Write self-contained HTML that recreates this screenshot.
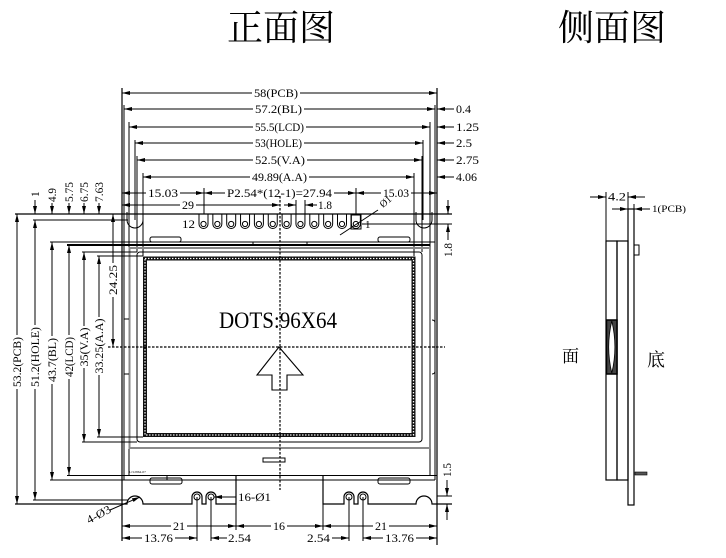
<!DOCTYPE html>
<html><head><meta charset="utf-8">
<style>
html,body{margin:0;padding:0;background:#fff;}
svg{display:block;}
text{font-family:"Liberation Serif","Noto Serif CJK SC",serif;fill:#000;stroke:none;}
.d{font-size:11.5px;}
.s{font-size:10px;}
</style></head><body>
<svg width="726" height="558" viewBox="0 0 726 558" xmlns="http://www.w3.org/2000/svg">
<defs>
<marker id="a" markerWidth="8" markerHeight="4" refX="8" refY="2" orient="auto-start-reverse" markerUnits="userSpaceOnUse"><path d="M0,0 L8,2 L0,4 z" fill="#000"/></marker>
</defs>
<rect width="726" height="558" fill="#fff"/>

<!-- titles -->
<text x="227" y="40" font-size="36" style="font-family:'Noto Serif CJK SC',serif">正面图</text>
<text x="558" y="40" font-size="36" style="font-family:'Noto Serif CJK SC',serif">侧面图</text>

<g stroke="#000" stroke-width="1" fill="none">
<!-- top horizontal dims -->
<line x1="122" y1="93" x2="437" y2="93" marker-start="url(#a)" marker-end="url(#a)"/>
<line x1="124" y1="109" x2="435" y2="109" marker-start="url(#a)" marker-end="url(#a)"/>
<line x1="129" y1="127" x2="430" y2="127" marker-start="url(#a)" marker-end="url(#a)"/>
<line x1="135" y1="143" x2="423" y2="143" marker-start="url(#a)" marker-end="url(#a)"/>
<line x1="137" y1="160" x2="422" y2="160" marker-start="url(#a)" marker-end="url(#a)"/>
<line x1="143" y1="177" x2="414" y2="177" marker-start="url(#a)" marker-end="url(#a)"/>
<!-- right small leaders -->
<line x1="437" y1="109" x2="454" y2="109" marker-start="url(#a)"/>
<line x1="437" y1="127" x2="454" y2="127" marker-start="url(#a)"/>
<line x1="437" y1="143" x2="454" y2="143" marker-start="url(#a)"/>
<line x1="437" y1="160" x2="454" y2="160" marker-start="url(#a)"/>
<line x1="437" y1="177" x2="454" y2="177" marker-start="url(#a)"/>
<!-- extension verticals top -->
<line x1="124" y1="105" x2="124" y2="480"/>
<line x1="129" y1="122" x2="129" y2="475"/>
<line x1="135" y1="140" x2="135" y2="220"/>
<line x1="143" y1="173" x2="143" y2="256"/>
<line x1="435" y1="105" x2="435" y2="480"/>
<line x1="430" y1="122" x2="430" y2="475"/>
<line x1="423" y1="140" x2="423" y2="220"/>
<line x1="414" y1="173" x2="414" y2="256"/>
<line x1="137" y1="156" x2="137" y2="252"/>
<line x1="422" y1="156" x2="422" y2="252"/>
<!-- PCB edges -->
<line x1="122" y1="88" x2="122" y2="541" stroke-width="1.2"/>
<line x1="437" y1="88" x2="437" y2="545" stroke-width="1.2"/>
<line x1="15" y1="214" x2="452" y2="214" stroke-width="1.2"/>
<!-- row 193 -->
<line x1="122" y1="193" x2="204" y2="193" marker-start="url(#a)" marker-end="url(#a)"/>
<line x1="204" y1="193" x2="356" y2="193" marker-start="url(#a)" marker-end="url(#a)"/>
<line x1="356" y1="193" x2="437" y2="193" marker-start="url(#a)" marker-end="url(#a)"/>
<line x1="204" y1="188" x2="204" y2="214"/>
<line x1="356" y1="188" x2="356" y2="214"/>
<!-- row 205 -->
<line x1="122" y1="205" x2="280" y2="205" marker-start="url(#a)" marker-end="url(#a)"/>
<line x1="284" y1="205" x2="296" y2="205" marker-end="url(#a)"/>
<line x1="317" y1="205" x2="305" y2="205" marker-end="url(#a)"/>
<line x1="296" y1="200" x2="296" y2="214"/>
<line x1="305" y1="200" x2="305" y2="214"/>
</g>

<!-- top labels -->
<g class="d">
<rect x="252" y="87" width="48" height="12" fill="#fff"/><text class="d" x="254" y="97" textLength="44" lengthAdjust="spacingAndGlyphs">58(PCB)</text>
<rect x="253" y="103" width="51" height="12" fill="#fff"/><text class="d" x="255" y="113" textLength="47" lengthAdjust="spacingAndGlyphs">57.2(BL)</text>
<rect x="253" y="121" width="53" height="12" fill="#fff"/><text class="d" x="255" y="131" textLength="49" lengthAdjust="spacingAndGlyphs">55.5(LCD)</text>
<rect x="253" y="137" width="51" height="12" fill="#fff"/><text class="d" x="255" y="147" textLength="47" lengthAdjust="spacingAndGlyphs">53(HOLE)</text>
<rect x="253" y="154" width="54" height="12" fill="#fff"/><text class="d" x="255" y="164" textLength="50" lengthAdjust="spacingAndGlyphs">52.5(V.A)</text>
<rect x="250" y="171" width="59" height="12" fill="#fff"/><text class="d" x="252" y="181" textLength="55" lengthAdjust="spacingAndGlyphs">49.89(A.A)</text>
<text class="d" x="456" y="113" textLength="15" lengthAdjust="spacingAndGlyphs">0.4</text>
<text class="d" x="456" y="131" textLength="23" lengthAdjust="spacingAndGlyphs">1.25</text>
<text class="d" x="456" y="147" textLength="16" lengthAdjust="spacingAndGlyphs">2.5</text>
<text class="d" x="456" y="164" textLength="23" lengthAdjust="spacingAndGlyphs">2.75</text>
<text class="d" x="456" y="181" textLength="21" lengthAdjust="spacingAndGlyphs">4.06</text>
<rect x="146" y="187" width="34" height="12" fill="#fff"/><text class="d" x="148" y="197" textLength="30" lengthAdjust="spacingAndGlyphs">15.03</text>
<rect x="225" y="187" width="109" height="12" fill="#fff"/><text class="d" x="227" y="197" textLength="105" lengthAdjust="spacingAndGlyphs">P2.54*(12-1)=27.94</text>
<rect x="381" y="187" width="30" height="12" fill="#fff"/><text class="d" x="383" y="197" textLength="26" lengthAdjust="spacingAndGlyphs">15.03</text>
<rect x="180" y="199" width="16" height="12" fill="#fff"/><text class="d" x="182" y="209" textLength="12" lengthAdjust="spacingAndGlyphs">29</text>
<text class="d" x="318" y="209" textLength="14" lengthAdjust="spacingAndGlyphs">1.8</text>
</g>

<!-- body -->
<g stroke="#000" stroke-width="1" fill="none">
<!-- polarizer grey -->
<rect x="129.5" y="248" width="300.5" height="200" stroke="#8a8a8a" stroke-width="2"/>
<!-- BL -->
<line x1="50" y1="242" x2="435" y2="242"/>
<line x1="50" y1="480" x2="435" y2="480"/>
<!-- LCD -->
<line x1="67" y1="245" x2="430" y2="245" stroke-width="2"/>
<line x1="67" y1="475.5" x2="437" y2="475.5"/>
<!-- V.A -->
<line x1="82" y1="252" x2="137" y2="252"/>
<line x1="82" y1="442" x2="137" y2="442"/>
<rect x="137" y="252" width="285" height="190" rx="3"/>
<!-- A.A ext -->
<line x1="97" y1="256" x2="143" y2="256"/>
<line x1="97" y1="437" x2="143" y2="437"/>
<!-- hole exts -->
<line x1="33" y1="220" x2="128" y2="220"/>
<line x1="33" y1="500" x2="128" y2="500"/>
<line x1="362" y1="224" x2="452" y2="224"/>
<!-- slots top -->
<path d="M127,212 V220 A8,8 0 0 0 143,220 V212"/>
<path d="M416,212 V220 A8,8 0 0 0 432,220 V212"/>
<!-- bottom edge -->
<path d="M15,504 H127 A8,8 0 0 1 143,504 H192 V497 A5,5 0 0 1 202,497 V504 H206 V497 A5,5 0 0 1 216,497 V504 H236 V476" stroke-width="1.2"/>
<path d="M323,476 V504 H344 V497 A5,5 0 0 1 354,497 V504 H358 V497 A5,5 0 0 1 368,497 V504 H416 A8,8 0 0 1 432,504 H452" stroke-width="1.2"/>
<circle cx="197" cy="497" r="3"/><circle cx="211" cy="497" r="3"/>
<circle cx="349" cy="497" r="3"/><circle cx="363" cy="497" r="3"/>
<!-- small rounded rects -->
<rect x="150" y="237" width="31" height="5" rx="2"/>
<rect x="378" y="237" width="32" height="5" rx="2"/>
<rect x="150" y="478" width="32" height="6" rx="2"/>
<rect x="378" y="478" width="32" height="6" rx="2"/>
<rect x="263" y="458" width="22" height="4"/>
<path d="M432,320 Q435,320 435,323 V371 Q435,374 432,374" stroke-width="0.9"/>
<line x1="124" y1="319" x2="129" y2="319"/>
<line x1="124" y1="374" x2="129" y2="374"/>
<line x1="253" y1="242" x2="253" y2="245"/>
<line x1="307" y1="242" x2="307" y2="245"/>
<line x1="167" y1="476" x2="167" y2="480"/>
<!-- A.A dotted border -->
<rect x="145" y="258.5" width="268.5" height="176.5" stroke="#111" stroke-width="4"/>
<rect x="145" y="258.5" width="268.5" height="176.5" stroke="#fff" stroke-width="1.3" stroke-dasharray="1.4 1.6"/>
<!-- pins top -->
<path d="M199,214 V224 A4.5,4.5 0 0 0 208,224 V214"/>
<path d="M212.85,214 V224 A4.5,4.5 0 0 0 221.85,224 V214"/>
<path d="M226.7,214 V224 A4.5,4.5 0 0 0 235.7,224 V214"/>
<path d="M240.55,214 V224 A4.5,4.5 0 0 0 249.55,224 V214"/>
<path d="M254.4,214 V224 A4.5,4.5 0 0 0 263.4,224 V214"/>
<path d="M268.25,214 V224 A4.5,4.5 0 0 0 277.25,224 V214"/>
<path d="M282.1,214 V224 A4.5,4.5 0 0 0 291.1,224 V214"/>
<path d="M295.95,214 V224 A4.5,4.5 0 0 0 304.95,224 V214"/>
<path d="M309.8,214 V224 A4.5,4.5 0 0 0 318.8,224 V214"/>
<path d="M323.65,214 V224 A4.5,4.5 0 0 0 332.65,224 V214"/>
<path d="M337.5,214 V224 A4.5,4.5 0 0 0 346.5,224 V214"/>
<path d="M351.35,214 V224 A4.5,4.5 0 0 0 360.35,224 V214"/>
<circle cx="203.5" cy="224" r="2.6"/><circle cx="217.35" cy="224" r="2.6"/><circle cx="231.2" cy="224" r="2.6"/>
<circle cx="245.05" cy="224" r="2.6"/><circle cx="258.9" cy="224" r="2.6"/><circle cx="272.75" cy="224" r="2.6"/>
<circle cx="286.6" cy="224" r="2.6"/><circle cx="300.45" cy="224" r="2.6"/><circle cx="314.3" cy="224" r="2.6"/>
<circle cx="328.15" cy="224" r="2.6"/><circle cx="342" cy="224" r="2.6"/><circle cx="355.85" cy="224" r="2.6"/>
<rect x="351" y="215" width="10" height="14"/>
<line x1="340" y1="235" x2="378" y2="210"/>
<!-- arrow -->
<polygon points="279,347 303,375 287,375 287,390 272,390 272,375 257,375" stroke-width="1.1"/>
<!-- center dashed -->
<line x1="280" y1="196" x2="280" y2="490" stroke-width="1.2" stroke-dasharray="2.5 1.5"/>
<line x1="108" y1="347" x2="445" y2="347" stroke-width="1.2" stroke-dasharray="2.5 1.5"/>

<!-- left vertical dims -->
<line x1="17" y1="214" x2="17" y2="504" marker-start="url(#a)" marker-end="url(#a)"/>
<line x1="35" y1="220" x2="35" y2="500" marker-start="url(#a)" marker-end="url(#a)"/>
<line x1="35" y1="200" x2="35" y2="214" marker-end="url(#a)"/>
<line x1="52" y1="242" x2="52" y2="480" marker-start="url(#a)" marker-end="url(#a)"/>
<line x1="52" y1="203" x2="52" y2="214" marker-end="url(#a)"/>
<line x1="69" y1="245" x2="69" y2="475" marker-start="url(#a)" marker-end="url(#a)"/>
<line x1="69" y1="203" x2="69" y2="214" marker-end="url(#a)"/>
<line x1="84" y1="252" x2="84" y2="442" marker-start="url(#a)" marker-end="url(#a)"/>
<line x1="84" y1="203" x2="84" y2="214" marker-end="url(#a)"/>
<line x1="99" y1="256" x2="99" y2="437" marker-start="url(#a)" marker-end="url(#a)"/>
<line x1="99" y1="203" x2="99" y2="214" marker-end="url(#a)"/>
<line x1="113" y1="214" x2="113" y2="347" marker-start="url(#a)" marker-end="url(#a)"/>
<line x1="15" y1="504" x2="122" y2="504"/>

<!-- right vertical dims -->
<line x1="448" y1="200" x2="448" y2="214" marker-end="url(#a)"/>
<line x1="448" y1="240" x2="448" y2="224" marker-end="url(#a)"/>
<line x1="447" y1="480" x2="447" y2="496" marker-end="url(#a)"/>
<line x1="447" y1="520" x2="447" y2="504" marker-end="url(#a)"/>
<line x1="437" y1="496" x2="452" y2="496"/>

<!-- bottom dims -->
<line x1="197" y1="497" x2="197" y2="541"/>
<line x1="211" y1="497" x2="211" y2="541"/>
<line x1="349" y1="497" x2="349" y2="541"/>
<line x1="363" y1="497" x2="363" y2="541"/>
<line x1="236" y1="476" x2="236" y2="530"/>
<line x1="323" y1="476" x2="323" y2="530"/>
<line x1="122" y1="526" x2="236" y2="526" marker-start="url(#a)" marker-end="url(#a)"/>
<line x1="236" y1="526" x2="323" y2="526" marker-start="url(#a)" marker-end="url(#a)"/>
<line x1="323" y1="526" x2="437" y2="526" marker-start="url(#a)" marker-end="url(#a)"/>
<line x1="122" y1="538" x2="197" y2="538" marker-start="url(#a)" marker-end="url(#a)"/>
<line x1="227" y1="538" x2="211" y2="538" marker-end="url(#a)"/>
<line x1="332" y1="538" x2="349" y2="538" marker-end="url(#a)"/>
<line x1="363" y1="538" x2="437" y2="538" marker-start="url(#a)" marker-end="url(#a)"/>
<line x1="236" y1="497" x2="214" y2="497" marker-end="url(#a)"/>
<line x1="110" y1="510" x2="140" y2="497" marker-end="url(#a)"/>
</g>

<!-- body labels -->
<text x="182" y="228" font-size="12" textLength="13" lengthAdjust="spacingAndGlyphs">12</text>
<text x="365" y="228" font-size="11">1</text>
<text x="219" y="328" font-size="23" textLength="118" lengthAdjust="spacingAndGlyphs">DOTS:96X64</text>
<text x="129" y="473" font-size="3.5" fill="#333">LJ12864-07</text>
<text class="s" transform="translate(383,208) rotate(-40)">Ø1</text>

<!-- left rotated labels -->
<g class="d">
<g transform="translate(17,362) rotate(-90)"><rect x="-27" y="-6" width="54" height="12" fill="#fff"/><text class="d" x="-25" y="4" textLength="50" lengthAdjust="spacingAndGlyphs">53.2(PCB)</text></g>
<g transform="translate(35,357) rotate(-90)"><rect x="-32" y="-6" width="64" height="12" fill="#fff"/><text class="d" x="-30" y="4" textLength="60" lengthAdjust="spacingAndGlyphs">51.2(HOLE)</text></g>
<g transform="translate(52,360) rotate(-90)"><rect x="-24" y="-6" width="48" height="12" fill="#fff"/><text class="d" x="-22" y="4" textLength="44" lengthAdjust="spacingAndGlyphs">43.7(BL)</text></g>
<g transform="translate(69,357) rotate(-90)"><rect x="-22" y="-6" width="44" height="12" fill="#fff"/><text class="d" x="-20" y="4" textLength="40" lengthAdjust="spacingAndGlyphs">42(LCD)</text></g>
<g transform="translate(84,347) rotate(-90)"><rect x="-21" y="-6" width="42" height="12" fill="#fff"/><text class="d" x="-19.5" y="4" textLength="39" lengthAdjust="spacingAndGlyphs">35(V.A)</text></g>
<g transform="translate(99,346) rotate(-90)"><rect x="-29" y="-6" width="58" height="12" fill="#fff"/><text class="d" x="-27.5" y="4" textLength="55" lengthAdjust="spacingAndGlyphs">33.25(A.A)</text></g>
<g transform="translate(113,280) rotate(-90)"><rect x="-17" y="-6" width="34" height="12" fill="#fff"/><text class="d" x="-15" y="4" textLength="30" lengthAdjust="spacingAndGlyphs">24.25</text></g>
<g transform="translate(35,194) rotate(-90)"><text class="d" x="-3" y="4">1</text></g>
<g transform="translate(52,195) rotate(-90)"><text class="d" x="-7" y="4" textLength="14" lengthAdjust="spacingAndGlyphs">4.9</text></g>
<g transform="translate(69,192) rotate(-90)"><text class="d" x="-10" y="4" textLength="20" lengthAdjust="spacingAndGlyphs">5.75</text></g>
<g transform="translate(84,192) rotate(-90)"><text class="d" x="-10" y="4" textLength="20" lengthAdjust="spacingAndGlyphs">6.75</text></g>
<g transform="translate(99,192) rotate(-90)"><text class="d" x="-10" y="4" textLength="20" lengthAdjust="spacingAndGlyphs">7.63</text></g>
<g transform="translate(448,250) rotate(-90)"><text class="d" x="-7" y="4" textLength="14" lengthAdjust="spacingAndGlyphs">1.8</text></g>
<g transform="translate(447,470) rotate(-90)"><text class="d" x="-7" y="4" textLength="14" lengthAdjust="spacingAndGlyphs">1.5</text></g>
</g>

<!-- bottom labels -->
<rect x="171" y="520" width="16" height="12" fill="#fff"/><text class="d" x="173" y="530" textLength="12" lengthAdjust="spacingAndGlyphs">21</text>
<rect x="271" y="520" width="16" height="12" fill="#fff"/><text class="d" x="273" y="530" textLength="12" lengthAdjust="spacingAndGlyphs">16</text>
<rect x="373" y="520" width="16" height="12" fill="#fff"/><text class="d" x="375" y="530" textLength="12" lengthAdjust="spacingAndGlyphs">21</text>
<rect x="142" y="532" width="33" height="12" fill="#fff"/><text class="d" x="144" y="542" textLength="29" lengthAdjust="spacingAndGlyphs">13.76</text>
<text class="d" x="228" y="542" textLength="23" lengthAdjust="spacingAndGlyphs">2.54</text>
<text class="d" x="307" y="542" textLength="23" lengthAdjust="spacingAndGlyphs">2.54</text>
<rect x="383" y="532" width="33" height="12" fill="#fff"/><text class="d" x="385" y="542" textLength="29" lengthAdjust="spacingAndGlyphs">13.76</text>
<text class="d" x="238" y="501" textLength="33" lengthAdjust="spacingAndGlyphs">16-Ø1</text>
<text class="d" transform="translate(89,524) rotate(-28)" textLength="26" lengthAdjust="spacingAndGlyphs">4-Ø3</text>

<!-- side view -->
<g stroke="#000" stroke-width="1" fill="none">
<line x1="606" y1="192" x2="606" y2="241"/>
<line x1="628" y1="192" x2="628" y2="209"/>
<line x1="634" y1="204" x2="634" y2="209"/>
<line x1="590" y1="197" x2="606" y2="197" marker-end="url(#a)"/>
<line x1="645" y1="197" x2="628" y2="197" marker-end="url(#a)"/>
<line x1="612" y1="209" x2="628" y2="209" marker-end="url(#a)"/>
<line x1="650" y1="209" x2="634" y2="209" marker-end="url(#a)"/>
<rect x="606" y="241" width="11" height="239" stroke-width="1.2"/>
<rect x="617" y="241" width="11" height="239" stroke-width="1.2"/>
<rect x="628" y="209" width="6" height="296" stroke-width="1.2"/>
<path d="M634,245 H639 V255 H634"/>
<rect x="606.5" y="320" width="10.5" height="54" fill="#444" stroke-width="1.5"/>
<path d="M611.8,321 Q618,347 611.8,373 Q605.6,347 611.8,321 z" fill="#fff" stroke-width="0.8"/>
<rect x="635" y="472" width="12" height="3" fill="#555" stroke-width="0.6"/>
</g>
<text class="d" x="608" y="200.5" textLength="18" lengthAdjust="spacingAndGlyphs">4.2</text>
<text x="652" y="212" font-size="9.5" textLength="34" lengthAdjust="spacingAndGlyphs">1(PCB)</text>
<text x="562" y="362" font-size="17" style="font-family:'Noto Serif CJK SC',serif">面</text>
<text x="647" y="366" font-size="18" style="font-family:'Noto Serif CJK SC',serif">底</text>
</svg>
</body></html>
